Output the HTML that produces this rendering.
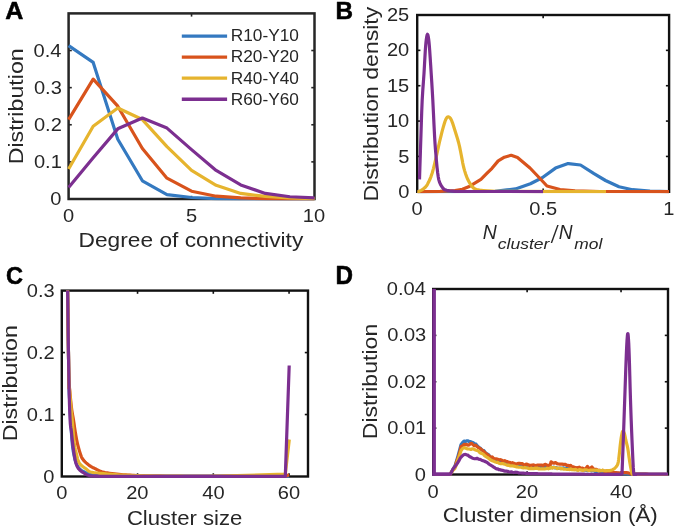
<!DOCTYPE html>
<html><head><meta charset="utf-8"><style>
html,body{margin:0;padding:0;background:#fff;}
svg{display:block;will-change:transform;}
text{font-family:"Liberation Sans",sans-serif;}
</style></head><body>
<svg width="675" height="527" viewBox="0 0 675 527">
<rect width="675" height="527" fill="#fff"/>
<line x1="191.55" y1="199" x2="191.55" y2="195.8" stroke="#262626" stroke-width="1.6"/>
<line x1="191.55" y1="13.4" x2="191.55" y2="16.6" stroke="#262626" stroke-width="1.6"/>
<line x1="68.6" y1="161.88" x2="71.8" y2="161.88" stroke="#262626" stroke-width="1.6"/>
<line x1="314.5" y1="161.88" x2="311.3" y2="161.88" stroke="#262626" stroke-width="1.6"/>
<line x1="68.6" y1="124.76" x2="71.8" y2="124.76" stroke="#262626" stroke-width="1.6"/>
<line x1="314.5" y1="124.76" x2="311.3" y2="124.76" stroke="#262626" stroke-width="1.6"/>
<line x1="68.6" y1="87.64" x2="71.8" y2="87.64" stroke="#262626" stroke-width="1.6"/>
<line x1="314.5" y1="87.64" x2="311.3" y2="87.64" stroke="#262626" stroke-width="1.6"/>
<line x1="68.6" y1="50.52" x2="71.8" y2="50.52" stroke="#262626" stroke-width="1.6"/>
<line x1="314.5" y1="50.52" x2="311.3" y2="50.52" stroke="#262626" stroke-width="1.6"/>
<rect x="68.6" y="13.4" width="245.9" height="185.6" fill="none" stroke="#262626" stroke-width="2.5"/>
<line x1="543.15" y1="191.8" x2="543.15" y2="188.6" stroke="#111" stroke-width="1.6"/>
<line x1="543.15" y1="15" x2="543.15" y2="18.2" stroke="#111" stroke-width="1.6"/>
<line x1="417.2" y1="156.44" x2="420.4" y2="156.44" stroke="#111" stroke-width="1.6"/>
<line x1="669.1" y1="156.44" x2="665.9" y2="156.44" stroke="#111" stroke-width="1.6"/>
<line x1="417.2" y1="121.08" x2="420.4" y2="121.08" stroke="#111" stroke-width="1.6"/>
<line x1="669.1" y1="121.08" x2="665.9" y2="121.08" stroke="#111" stroke-width="1.6"/>
<line x1="417.2" y1="85.72" x2="420.4" y2="85.72" stroke="#111" stroke-width="1.6"/>
<line x1="669.1" y1="85.72" x2="665.9" y2="85.72" stroke="#111" stroke-width="1.6"/>
<line x1="417.2" y1="50.36" x2="420.4" y2="50.36" stroke="#111" stroke-width="1.6"/>
<line x1="669.1" y1="50.36" x2="665.9" y2="50.36" stroke="#111" stroke-width="1.6"/>
<rect x="417.2" y="15" width="251.9" height="176.8" fill="none" stroke="#111" stroke-width="2.4"/>
<line x1="137.55" y1="476.5" x2="137.55" y2="473.3" stroke="#111" stroke-width="1.6"/>
<line x1="137.55" y1="290.6" x2="137.55" y2="293.8" stroke="#111" stroke-width="1.6"/>
<line x1="213.31" y1="476.5" x2="213.31" y2="473.3" stroke="#111" stroke-width="1.6"/>
<line x1="213.31" y1="290.6" x2="213.31" y2="293.8" stroke="#111" stroke-width="1.6"/>
<line x1="289.06" y1="476.5" x2="289.06" y2="473.3" stroke="#111" stroke-width="1.6"/>
<line x1="289.06" y1="290.6" x2="289.06" y2="293.8" stroke="#111" stroke-width="1.6"/>
<line x1="61.8" y1="414.53" x2="65" y2="414.53" stroke="#111" stroke-width="1.6"/>
<line x1="308" y1="414.53" x2="304.8" y2="414.53" stroke="#111" stroke-width="1.6"/>
<line x1="61.8" y1="352.57" x2="65" y2="352.57" stroke="#111" stroke-width="1.6"/>
<line x1="308" y1="352.57" x2="304.8" y2="352.57" stroke="#111" stroke-width="1.6"/>
<rect x="61.8" y="290.6" width="246.2" height="185.9" fill="none" stroke="#111" stroke-width="2.4"/>
<line x1="527.12" y1="474.5" x2="527.12" y2="471.3" stroke="#111" stroke-width="1.6"/>
<line x1="527.12" y1="289" x2="527.12" y2="292.2" stroke="#111" stroke-width="1.6"/>
<line x1="621.04" y1="474.5" x2="621.04" y2="471.3" stroke="#111" stroke-width="1.6"/>
<line x1="621.04" y1="289" x2="621.04" y2="292.2" stroke="#111" stroke-width="1.6"/>
<line x1="433.2" y1="428.12" x2="436.4" y2="428.12" stroke="#111" stroke-width="1.6"/>
<line x1="668" y1="428.12" x2="664.8" y2="428.12" stroke="#111" stroke-width="1.6"/>
<line x1="433.2" y1="381.75" x2="436.4" y2="381.75" stroke="#111" stroke-width="1.6"/>
<line x1="668" y1="381.75" x2="664.8" y2="381.75" stroke="#111" stroke-width="1.6"/>
<line x1="433.2" y1="335.38" x2="436.4" y2="335.38" stroke="#111" stroke-width="1.6"/>
<line x1="668" y1="335.38" x2="664.8" y2="335.38" stroke="#111" stroke-width="1.6"/>
<rect x="433.2" y="289" width="234.8" height="185.5" fill="none" stroke="#111" stroke-width="2.4"/>
<defs>
<clipPath id="ca"><rect x="67.1" y="13.4" width="248.9" height="187.2"/></clipPath>
<clipPath id="cb"><rect x="415.7" y="15" width="254.9" height="178.4"/></clipPath>
<clipPath id="cc"><rect x="60.3" y="290.6" width="249.2" height="187.5"/></clipPath>
<clipPath id="cd"><rect x="431.7" y="289" width="237.8" height="187.1"/></clipPath>
</defs>
<polyline points="68.6,45.69 93.19,62.4 117.78,139.24 142.37,180.81 166.96,194.55 191.55,197.52 216.14,198.63 240.73,198.81 265.32,199 289.91,199 314.5,199" fill="none" stroke="#3479C0" stroke-width="3.2" stroke-linejoin="round" stroke-linecap="butt" clip-path="url(#ca)"/>
<polyline points="68.6,119.56 93.19,79.1 117.78,106.2 142.37,148.52 166.96,178.21 191.55,191.2 216.14,196.22 240.73,197.89 265.32,198.63 289.91,198.81 314.5,199" fill="none" stroke="#D8531C" stroke-width="3.2" stroke-linejoin="round" stroke-linecap="butt" clip-path="url(#ca)"/>
<polyline points="68.6,168.93 93.19,126.24 117.78,108.06 142.37,119.56 166.96,146.66 191.55,170.42 216.14,185.27 240.73,193.43 265.32,196.4 289.91,197.89 314.5,198.63" fill="none" stroke="#E6B42E" stroke-width="3.2" stroke-linejoin="round" stroke-linecap="butt" clip-path="url(#ca)"/>
<polyline points="68.6,187.49 93.19,157.8 117.78,128.84 142.37,118.08 166.96,128.1 191.55,149.63 216.14,170.42 240.73,184.89 265.32,193.43 289.91,196.77 314.5,197.89" fill="none" stroke="#7C2F90" stroke-width="3.2" stroke-linejoin="round" stroke-linecap="butt" clip-path="url(#ca)"/>
<line x1="181.8" y1="36.1" x2="227.1" y2="36.1" stroke="#3479C0" stroke-width="3.3"/>
<text transform="translate(230.72,41.44) scale(1.0860,1)" font-size="15.92" style="font-style:normal;font-weight:normal" fill="#262626" >R10-Y10</text>
<line x1="181.8" y1="57.15" x2="227.1" y2="57.15" stroke="#D8531C" stroke-width="3.3"/>
<text transform="translate(230.72,62.49) scale(1.0860,1)" font-size="15.92" style="font-style:normal;font-weight:normal" fill="#262626" >R20-Y20</text>
<line x1="181.8" y1="78.2" x2="227.1" y2="78.2" stroke="#E6B42E" stroke-width="3.3"/>
<text transform="translate(230.72,83.54) scale(1.0860,1)" font-size="15.92" style="font-style:normal;font-weight:normal" fill="#262626" >R40-Y40</text>
<line x1="181.8" y1="99.25" x2="227.1" y2="99.25" stroke="#7C2F90" stroke-width="3.3"/>
<text transform="translate(230.72,104.59) scale(1.0860,1)" font-size="15.92" style="font-style:normal;font-weight:normal" fill="#262626" >R60-Y60</text>
<text transform="translate(50.37,205.07) scale(1.1400,1)" font-size="17.60"  fill="#262626">0</text>
<text transform="translate(33.91,167.95) scale(1.1400,1)" font-size="17.60"  fill="#262626">0.1</text>
<text transform="translate(33.91,130.83) scale(1.1400,1)" font-size="17.60"  fill="#262626">0.2</text>
<text transform="translate(33.91,93.71) scale(1.1400,1)" font-size="17.60"  fill="#262626">0.3</text>
<text transform="translate(33.51,56.59) scale(1.1400,1)" font-size="17.60"  fill="#262626">0.4</text>
<text transform="translate(62.98,222.02) scale(1.1400,1)" font-size="17.60"  fill="#262626">0</text>
<text transform="translate(185.93,222.02) scale(1.1400,1)" font-size="17.60"  fill="#262626">5</text>
<text transform="translate(302.86,222.02) scale(1.1400,1)" font-size="17.60"  fill="#262626">10</text>
<text transform="translate(78.58,246.9) scale(1.1124,1)" font-size="20.43"  fill="#262626">Degree of connectivity</text>
<text transform="translate(23.3,164.36) rotate(-90) scale(1.1444,1)" font-size="20.30" fill="#262626">Distribution</text>
<text transform="translate(5.35,18.9) scale(1.0238,1)" font-size="24.49" style="font-weight:bold" fill="#000"  stroke="#000" stroke-width="0.55" stroke-linejoin="round">A</text>
<polyline points="417.5,191.6 495,191.3 506.9,189.9 515.5,188.9 530.4,183.7 542.2,177.8 555.5,168.1 567.4,163.7 568.5,163.7 580.5,165 594,173.7 605.5,180.5 619,186.8 632.5,189.7 650,191.2 669,191.6" fill="none" stroke="#3479C0" stroke-width="3.2" stroke-linejoin="round" stroke-linecap="butt" clip-path="url(#cb)"/>
<polyline points="417.5,191.6 440,191.4 455,190.5 462.4,189.3 468.6,186.8 474.8,183.1 480.9,179.4 487.1,173.2 492,168.3 498.2,160.9 504.4,157.2 511.2,155.3 517.5,157.6 530,168 540,178.5 547,186 560,189.5 575,190.8 600,191.5 669,191.6" fill="none" stroke="#D8531C" stroke-width="3.2" stroke-linejoin="round" stroke-linecap="butt" clip-path="url(#cb)"/>
<polyline points="417.5,191.4 417.89,191.47 418.5,191.53 419.5,191.2 421.14,190.32 423.18,189.07 425,187.6 426.34,186.04 427.47,184.27 428.6,182.1 429.8,179.54 430.99,176.57 432.2,173 433.43,168.61 434.67,163.6 435.9,158.4 437.1,153 438.3,147.4 439.5,142 440.76,136.76 442.04,131.73 443.2,127.4 444.19,123.98 445.06,121.27 445.9,119.2 446.7,117.76 447.46,116.97 448.3,116.8 449.26,117.16 450.3,118.15 451.4,120 452.59,123.05 453.85,126.97 455.1,131 456.35,134.94 457.59,138.99 458.7,143 459.62,146.9 460.41,150.77 461.2,154.7 461.98,158.84 462.75,163.06 463.6,167 464.58,170.61 465.64,173.96 466.7,176.9 467.71,179.29 468.72,181.27 469.8,183.1 470.94,184.94 472.15,186.64 473.5,188 475.07,188.9 476.79,189.47 478.5,189.9 479.89,190.19 481.27,190.33 483.4,190.5 487.2,190.78 491.74,191.09 495,191.3 606,191.6" fill="none" stroke="#E6B42E" stroke-width="3.2" stroke-linejoin="round" stroke-linecap="butt" clip-path="url(#cb)"/>
<polyline points="419.5,179.4 419.87,168.04 420.39,151.91 420.9,136.5 421.32,123.49 421.73,111.19 422.2,100 422.78,90.29 423.42,81.69 424,73.5 424.48,65.2 424.91,57.3 425.3,50.7 425.65,45.89 425.96,42.36 426.3,39.5 426.69,36.94 427.09,35.04 427.5,34.3 427.91,35.04 428.31,36.94 428.7,39.5 429.03,42.36 429.34,45.89 429.7,50.7 430.16,57.3 430.67,65.2 431.2,73.5 431.72,81.69 432.25,90.29 432.8,100 433.4,112.1 434.03,125.32 434.6,136.5 435.05,143.92 435.45,149.3 435.9,154.7 436.46,161.13 437.08,167.58 437.7,173 438.23,176.81 438.76,179.61 439.5,182.1 440.6,184.6 441.9,186.81 443.2,188.5 444.24,189.47 445.26,189.92 446.8,190.3 449.5,190.76 452.7,191.14 455,191.4 543.1,191.6" fill="none" stroke="#7C2F90" stroke-width="3.2" stroke-linejoin="round" stroke-linecap="butt" clip-path="url(#cb)"/>
<text transform="translate(398.17,197.87) scale(1.1400,1)" font-size="17.60"  fill="#262626">0</text>
<text transform="translate(398.17,162.51) scale(1.1400,1)" font-size="17.60"  fill="#262626">5</text>
<text transform="translate(386.93,127.15) scale(1.1400,1)" font-size="17.60"  fill="#262626">10</text>
<text transform="translate(386.93,91.79) scale(1.1400,1)" font-size="17.60"  fill="#262626">15</text>
<text transform="translate(386.93,56.43) scale(1.1400,1)" font-size="17.60"  fill="#262626">20</text>
<text transform="translate(386.93,21.07) scale(1.1400,1)" font-size="17.60"  fill="#262626">25</text>
<text transform="translate(411.58,214.92) scale(1.1400,1)" font-size="17.60"  fill="#262626">0</text>
<text transform="translate(529.21,214.92) scale(1.1400,1)" font-size="17.60"  fill="#262626">0.5</text>
<text transform="translate(663.18,214.92) scale(1.1400,1)" font-size="17.60"  fill="#262626">1</text>
<text transform="translate(377.9,201.55) rotate(-90) scale(1.1371,1)" font-size="20.30" fill="#262626">Distribution density</text>
<text transform="translate(335.5,18.9) scale(0.9906,1)" font-size="24.49" style="font-weight:bold" fill="#000"  stroke="#000" stroke-width="0.55" stroke-linejoin="round">B</text>
<text transform="translate(482.72,239.3) scale(0.9781,1)" font-size="19.86" style="font-style:italic" fill="#262626" >N</text>
<text transform="translate(497.77,248.86) scale(1.2691,1)" font-size="13.84" style="font-style:italic" fill="#262626" >cluster</text>
<text transform="translate(551.74,242.76) scale(0.7991,1)" font-size="23.84" style="font-style:italic" fill="#262626" >/</text>
<text transform="translate(558.63,239.3) scale(0.9635,1)" font-size="19.86" style="font-style:italic" fill="#262626" >N</text>
<text transform="translate(574.25,248.86) scale(1.2207,1)" font-size="14.25" style="font-style:italic" fill="#262626" >mol</text>
<polyline points="66.3,200 66.44,209.87 66.64,223.53 66.87,239.71 67.12,257.13 67.37,274.52 67.6,290.6 67.82,306.37 68.06,323.06 68.29,339.71 68.51,355.39 68.72,369.13 68.9,380 69.05,387.35 69.17,391.81 69.27,394.34 69.37,395.9 69.47,397.47 69.6,400 69.74,403.3 69.89,406.56 70.04,409.82 70.21,413.13 70.4,416.5 70.6,420 70.83,423.77 71.09,427.81 71.36,431.94 71.64,435.94 71.93,439.63 72.2,442.8 72.46,445.39 72.7,447.53 72.95,449.36 73.21,450.99 73.49,452.57 73.8,454.2 74.14,455.89 74.5,457.53 74.87,459.11 75.28,460.6 75.72,462.01 76.2,463.3 76.71,464.48 77.25,465.54 77.83,466.52 78.44,467.41 79.09,468.23 79.8,469 80.55,469.69 81.35,470.29 82.19,470.81 83.07,471.29 84.01,471.75 85,472.2 86.14,472.66 87.46,473.12 88.83,473.55 90.12,473.94 91.22,474.26 92,474.5 110,475.8 289.1,476.2" fill="none" stroke="#3479C0" stroke-width="3.2" stroke-linejoin="round" stroke-linecap="butt" clip-path="url(#cc)"/>
<polyline points="66.3,200 66.44,209.87 66.64,223.53 66.87,239.71 67.12,257.13 67.37,274.52 67.6,290.6 67.82,306.51 68.06,323.5 68.29,340.46 68.52,356.27 68.72,369.82 68.9,380 69.02,385.91 69.1,388.25 69.16,388.34 69.22,387.46 69.33,386.91 69.5,388 69.75,390.73 70.06,394.07 70.41,397.75 70.78,401.48 71.15,404.99 71.5,408 71.84,410.47 72.18,412.61 72.52,414.54 72.86,416.34 73.18,418.13 73.5,420 73.8,421.93 74.07,423.84 74.34,425.74 74.61,427.62 74.9,429.51 75.2,431.4 75.51,433.3 75.83,435.2 76.16,437.1 76.5,439 76.88,440.9 77.3,442.8 77.77,444.77 78.3,446.81 78.86,448.86 79.42,450.82 79.98,452.63 80.5,454.2 80.95,455.48 81.33,456.52 81.71,457.41 82.12,458.21 82.64,459.02 83.3,459.9 84.13,460.87 85.1,461.86 86.16,462.86 87.29,463.83 88.45,464.75 89.6,465.6 90.78,466.38 92.03,467.11 93.3,467.8 94.57,468.44 95.82,469.04 97,469.6 98.03,470.11 98.92,470.56 99.77,470.97 100.71,471.35 101.85,471.72 103.3,472.1 105.12,472.49 107.24,472.87 109.56,473.24 111.98,473.6 114.39,473.92 116.7,474.2 118.92,474.43 121.14,474.63 123.36,474.79 125.57,474.93 127.78,475.06 130,475.2 132.18,475.34 134.31,475.47 136.44,475.59 138.61,475.71 140.89,475.81 143.3,475.9 145.62,475.98 147.75,476.04 149.98,476.09 152.58,476.13 155.83,476.17 160,476.2 165.78,476.23 173.09,476.25 181.04,476.27 188.77,476.28 195.38,476.29 200,476.3 285.3,476.2 289.1,474.8" fill="none" stroke="#D8531C" stroke-width="3.2" stroke-linejoin="round" stroke-linecap="butt" clip-path="url(#cc)"/>
<polyline points="66.3,200 66.44,209.87 66.64,223.53 66.87,239.71 67.12,257.13 67.37,274.52 67.6,290.6 67.83,306.51 68.06,323.5 68.3,340.46 68.53,356.27 68.73,369.82 68.9,380 69.02,385.91 69.09,388.25 69.13,388.34 69.18,387.46 69.26,386.91 69.4,388 69.61,390.73 69.87,394.07 70.16,397.75 70.46,401.48 70.74,404.99 71,408 71.21,410.34 71.4,412.19 71.58,413.82 71.76,415.5 71.96,417.47 72.2,420 72.48,423.31 72.8,427.22 73.13,431.44 73.48,435.64 73.84,439.53 74.2,442.8 74.56,445.39 74.92,447.53 75.29,449.36 75.68,450.99 76.08,452.57 76.5,454.2 76.9,455.89 77.28,457.53 77.67,459.11 78.12,460.6 78.68,462.01 79.4,463.3 80.34,464.48 81.49,465.56 82.74,466.55 84.01,467.45 85.2,468.26 86.2,469 86.96,469.64 87.55,470.17 88.05,470.62 88.56,471.01 89.18,471.37 90,471.7 90.88,471.99 91.7,472.21 92.64,472.39 93.83,472.57 95.43,472.76 97.6,473 100.39,473.31 103.69,473.66 107.4,474.02 111.42,474.39 115.66,474.72 120,475 124.56,475.22 129.44,475.4 134.53,475.56 139.72,475.69 144.91,475.8 150,475.9 155,475.99 160,476.05 165,476.1 170,476.14 175,476.17 180,476.2 185.03,476.24 190.11,476.28 195.19,476.31 200.22,476.33 205.17,476.33 210,476.3 214.99,476.22 220.22,476.1 225.38,475.96 230.11,475.81 234.1,475.69 237,475.6 285.3,474.1 289.3,439.5" fill="none" stroke="#E6B42E" stroke-width="3.2" stroke-linejoin="round" stroke-linecap="butt" clip-path="url(#cc)"/>
<polyline points="66.3,200 66.44,209.87 66.64,223.53 66.87,239.71 67.12,257.13 67.37,274.52 67.6,290.6 67.82,306.14 68.04,322.32 68.26,338.46 68.47,353.9 68.69,367.97 68.9,380 69.1,389.86 69.3,398.05 69.5,404.88 69.7,410.61 69.9,415.56 70.1,420 70.31,423.56 70.53,425.92 70.75,427.49 70.97,428.66 71.19,429.83 71.4,431.4 71.6,433.3 71.79,435.2 71.98,437.1 72.17,439 72.38,440.9 72.6,442.8 72.84,444.73 73.1,446.69 73.36,448.64 73.64,450.57 73.92,452.43 74.2,454.2 74.48,455.89 74.75,457.53 75.03,459.11 75.32,460.6 75.64,462.01 76,463.3 76.38,464.47 76.77,465.51 77.19,466.47 77.66,467.35 78.19,468.19 78.8,469 79.51,469.78 80.31,470.51 81.17,471.19 82.07,471.83 82.99,472.43 83.9,473 84.76,473.54 85.58,474.04 86.42,474.51 87.33,474.93 88.37,475.29 89.6,475.6 91.18,475.83 93.1,476 95.16,476.11 97.13,476.19 98.81,476.25 100,476.3 285.3,476.4 289.2,365.5" fill="none" stroke="#7C2F90" stroke-width="3.2" stroke-linejoin="round" stroke-linecap="butt" clip-path="url(#cc)"/>
<text transform="translate(43.27,482.57) scale(1.1400,1)" font-size="17.60"  fill="#262626">0</text>
<text transform="translate(26.81,420.61) scale(1.1400,1)" font-size="17.60"  fill="#262626">0.1</text>
<text transform="translate(26.81,358.64) scale(1.1400,1)" font-size="17.60"  fill="#262626">0.2</text>
<text transform="translate(26.81,296.67) scale(1.1400,1)" font-size="17.60"  fill="#262626">0.3</text>
<text transform="translate(56.18,499.22) scale(1.1400,1)" font-size="17.60"  fill="#262626">0</text>
<text transform="translate(126.22,499.22) scale(1.1400,1)" font-size="17.60"  fill="#262626">20</text>
<text transform="translate(202.27,499.22) scale(1.1400,1)" font-size="17.60"  fill="#262626">40</text>
<text transform="translate(277.73,499.22) scale(1.1400,1)" font-size="17.60"  fill="#262626">60</text>
<text transform="translate(126.89,524.5) scale(1.0528,1)" font-size="21.01"  fill="#262626">Cluster size</text>
<text transform="translate(16.6,441.36) rotate(-90) scale(1.1464,1)" font-size="20.30" fill="#262626">Distribution</text>
<text transform="translate(6.06,283.55) scale(0.9550,1)" font-size="24.65" style="font-weight:bold" fill="#000"  stroke="#000" stroke-width="0.55" stroke-linejoin="round">C</text>
<polyline points="434,474.5 435.23,474.5 436.46,474.5 437.69,474.5 438.92,474.5 440.15,474.5 441.38,474.5 442.62,474.5 443.85,474.5 445.08,474.5 446.31,474.5 447.54,474.5 448.77,474.5 450,474.5 452,471 453.5,468.5 455,465.74 456.5,461.04 458,455.87 459.5,450.35 461,444.63 462.5,442.57 464,441.01 465.33,441.67 466.67,440.93 468,440.73 469.33,441.83 470.67,441.64 472,442.34 473.33,442.81 474.67,443.81 476,444.15 477.33,445.8 478.67,447.2 480,448.02 481.25,449.24 482.5,450.17 483.75,450.56 485,452.26 486.25,453.22 487.5,454.05 488.75,454.91 490,456.87 491.25,457.22 492.5,458.22 493.75,459.13 495,459.71 496.25,460.42 497.5,460.39 498.75,461.3 500,461.44 501.25,462.25 502.5,462.5 503.75,462.03 505,462.39 506.25,462.78 507.5,463.84 508.75,463.62 510,464.13 511.25,463.99 512.5,464.38 513.75,464.45 515,464.6 516.25,465.02 517.5,465.21 518.75,465.72 520,465.68 521.25,466.02 522.5,466.04 523.75,466.27 525,466.05 526.25,465.63 527.5,466.42 528.75,466.62 530,466.65 531.25,466.41 532.5,466.65 533.75,466.24 535,466.96 536.25,466.79 537.5,466.6 538.75,466.47 540,467.35 541.25,467.55 542.5,466.71 543.75,467.49 545,467.16 546.25,466.96 547.5,467.17 548.75,467.71 550,467.87 551.25,467.11 552.5,467.74 553.75,467.23 555,467.97 556.25,467.64 557.5,468.26 558.75,468.42 560,468.01 561.25,468.59 562.5,468 563.75,467.86 565,468.47 566.25,468 567.5,468.26 568.75,468.56 570,468.86 571.25,468.5 572.5,468.48 573.75,469.4 575,468.94 576.25,469.68 577.5,469.71 578.75,469.28 580,469.46 581.25,469.65 582.5,469.89 583.75,469.97 585,470.06 586.25,470.25 587.5,470.69 588.75,470.38 590,470.43 591.25,470.85 592.5,470.49 593.75,470.68 595,471.48 596.25,471.15 597.5,471.3 598.75,470.89 600,471.42 601.25,471.62 602.5,471.75 603.75,471.88 605,472 606.25,472.12 607.5,472.25 608.75,472.38 610,472.5 611.25,472.62 612.5,472.75 613.75,472.88 615,473 616.25,473.08 617.5,473.17 618.75,473.25 620,473.33 621.25,473.42 622.5,473.5 623.75,473.58 625,473.67 626.25,473.75 627.5,473.83 628.75,473.92 630,474 631.23,474.02 632.45,474.03 633.68,474.05 634.9,474.06 636.13,474.08 637.35,474.1 638.58,474.11 639.81,474.13 641.03,474.15 642.26,474.16 643.48,474.18 644.71,474.19 645.94,474.21 647.16,474.23 648.39,474.24 649.61,474.26 650.84,474.27 652.06,474.29 653.29,474.31 654.52,474.32 655.74,474.34 656.97,474.35 658.19,474.37 659.42,474.39 660.65,474.4 661.87,474.42 663.1,474.44 664.32,474.45 665.55,474.47 666.77,474.48 668,474.5" fill="none" stroke="#3479C0" stroke-width="3.2" stroke-linejoin="round" stroke-linecap="butt" clip-path="url(#cd)"/>
<polyline points="434,474.5 435.23,474.5 436.46,474.5 437.69,474.5 438.92,474.5 440.15,474.5 441.38,474.5 442.62,474.5 443.85,474.5 445.08,474.5 446.31,474.5 447.54,474.5 448.77,474.5 450,474.5 452,471.3 453.5,469.05 455,466.91 456.55,461.58 458.1,457.86 459.6,452.54 461.1,446.38 462.6,445.83 464.1,444.25 465.37,444.72 466.63,444.43 467.9,445.09 469.17,444.87 470.43,443.6 471.7,443.38 472.97,444.75 474.23,445.65 475.5,445.15 477.03,446.47 478.57,447.7 480.1,448.35 481.6,449.68 483.1,450.87 484.6,452.22 486.13,453.77 487.67,454.59 489.2,455.93 490.7,457.25 492.2,456.97 493.7,458.5 494.92,459.05 496.14,458.77 497.36,458.97 498.58,460.11 499.8,459.63 501.02,459.86 502.24,460.51 503.46,461.18 504.68,460.64 505.9,461.25 507.2,461.58 508.5,462.6 509.8,462.36 511.1,463.25 512.4,462.61 513.7,463.16 515,463.91 516.25,464.26 517.5,463.68 518.75,463.39 520,463.27 521.23,463.99 522.47,463.67 523.7,464.68 524.93,464.87 526.17,464.11 527.4,464.39 528.63,465.28 529.87,465.2 531.1,465.58 532.33,465.08 533.57,464.93 534.8,465.31 536.01,465.94 537.22,465.13 538.43,465.17 539.64,465.19 540.85,465.12 542.05,465.04 543.26,465.68 544.47,464.54 545.68,464.25 546.89,465.49 548.1,465.33 550,465.68 551.1,461.81 552.58,462.88 554.05,463.2 555.52,462.56 557,463.64 558.23,464.02 559.47,464.03 560.7,464.08 561.93,464 563.17,464.33 564.4,464.42 565.65,464.45 566.9,465.42 568.15,465.25 569.4,466.23 570.65,465.41 571.9,466.87 573.13,466.82 574.37,467.39 575.6,467.61 576.83,467.86 578.07,467.66 579.3,467.12 580.77,468.52 582.25,468.09 583.73,468.64 585.2,469.53 587.4,466.33 589.5,469.18 591.9,466.91 594,469.46 595.25,469.31 596.5,469.42 597.75,470.51 599,470.2 600.25,470.86 601.5,470.49 602.73,470.46 603.97,471.12 605.2,471.69 606.43,470.97 607.67,472.03 608.9,472.39 610.38,471.98 611.85,472.15 613.32,472.32 614.8,472.5 616.1,472.62 617.4,472.75 618.7,472.88 620,473 621.33,472.83 622.67,472.67 624,472.5 625.33,472.6 626.67,472.7 628,472.8 629.33,473.2 630.67,473.6 632,474 633.2,474.02 634.4,474.03 635.6,474.05 636.8,474.07 638,474.08 639.2,474.1 640.4,474.12 641.6,474.13 642.8,474.15 644,474.17 645.2,474.18 646.4,474.2 647.6,474.22 648.8,474.23 650,474.25 651.2,474.27 652.4,474.28 653.6,474.3 654.8,474.32 656,474.33 657.2,474.35 658.4,474.37 659.6,474.38 660.8,474.4 662,474.42 663.2,474.43 664.4,474.45 665.6,474.47 666.8,474.48 668,474.5" fill="none" stroke="#D8531C" stroke-width="3.2" stroke-linejoin="round" stroke-linecap="butt" clip-path="url(#cd)"/>
<polyline points="434,474.5 435.23,474.5 436.46,474.5 437.69,474.5 438.92,474.5 440.15,474.5 441.38,474.5 442.62,474.5 443.85,474.5 445.08,474.5 446.31,474.5 447.54,474.5 448.77,474.5 450,474.5 452,471.5 453.5,469.75 455,468.31 456.5,464.32 458,459.51 459.55,455.18 461.1,450.46 462.6,448.5 464.1,447.57 465.37,447.94 466.63,448.56 467.9,448.82 469.43,449.01 470.97,449.44 472.5,448.8 474,449.35 475.5,449.93 477,450.42 478.53,451.14 480.07,452.81 481.6,453.45 483.1,453.95 484.6,455.64 486.1,456.72 487.63,457.71 489.17,458.75 490.7,460.05 492.23,460.75 493.77,461.29 495.3,461.89 496.5,462.33 497.7,462.42 498.9,463.16 500.1,463.62 501.3,463.58 502.57,463.55 503.83,463.91 505.1,464.37 506.37,464.87 507.63,465.32 508.9,465.18 510.11,465.82 511.32,465.86 512.53,465.89 513.74,466.05 514.95,466.4 516.16,466.82 517.37,466.76 518.58,467.25 519.79,467.24 521,467.25 522.29,467.65 523.57,467.92 524.86,467.41 526.14,467.88 527.43,468 528.71,468.57 530,468.74 531.23,468.21 532.45,468.76 533.67,468.68 534.9,468.19 536.12,468.42 537.35,468.11 538.58,468.83 539.8,468.71 541.02,468.97 542.25,468.9 543.48,468.81 544.7,468.91 545.93,468.77 547.15,468.34 548.38,468.86 549.6,468.3 551.1,467.44 552.33,468.17 553.55,467.54 554.78,467.68 556,467.78 557.23,468.66 558.46,468.05 559.68,467.99 560.91,468.91 562.13,468.28 563.36,469.1 564.59,469.03 565.81,469.28 567.04,469.5 568.27,469.22 569.49,469.53 570.72,468.87 571.94,469.69 573.17,469.53 574.4,469.83 575.62,469.32 576.85,470.06 578.07,470.34 579.3,469.56 580.53,469.85 581.77,470.12 583,470.42 584.23,469.86 585.47,469.83 586.7,469.92 587.93,470.32 589.17,470.49 590.4,470.16 591.63,470.16 592.87,470.22 594.1,470.2 595.33,470.3 596.57,469.99 597.8,470.44 599.03,470.94 600.27,470.41 601.5,470.77 602.73,470.21 603.97,470.77 605.2,470.87 606.43,470.82 607.67,470.69 608.9,470.68 609.58,470.69 610.57,470.34 611.64,470.06 612.6,469.7 613.39,469.27 614.13,468.78 614.83,468.2 615.5,467.5 616.16,466.75 616.8,465.95 617.39,464.95 617.9,463.6 618.31,461.8 618.64,459.65 618.92,457.32 619.2,455 619.46,452.69 619.7,450.31 619.94,447.9 620.2,445.5 620.5,443.02 620.83,440.47 621.16,438.06 621.5,436 621.84,434.25 622.18,432.72 622.53,431.58 622.9,431 623.29,431.12 623.71,431.81 624.12,432.85 624.5,434 624.83,435.24 625.13,436.69 625.44,438.29 625.8,440 626.25,441.84 626.75,443.81 627.25,445.88 627.7,448 628.07,450.24 628.41,452.59 628.71,454.9 629,457 629.27,458.82 629.51,460.46 629.74,462.02 630,463.6 630.29,465.27 630.59,466.95 630.9,468.56 631.2,470 631.47,471.3 631.72,472.48 631.99,473.48 632.3,474.2 632.72,474.56 633.22,474.61 633.68,474.54 634,474.5 635.21,474.5 636.43,474.5 637.64,474.5 638.86,474.5 640.07,474.5 641.29,474.5 642.5,474.5 643.71,474.5 644.93,474.5 646.14,474.5 647.36,474.5 648.57,474.5 649.79,474.5 651,474.5 652.21,474.5 653.43,474.5 654.64,474.5 655.86,474.5 657.07,474.5 658.29,474.5 659.5,474.5 660.71,474.5 661.93,474.5 663.14,474.5 664.36,474.5 665.57,474.5 666.79,474.5 668,474.5" fill="none" stroke="#E6B42E" stroke-width="3.2" stroke-linejoin="round" stroke-linecap="butt" clip-path="url(#cd)"/>
<polyline points="434.1,280 434.1,474.2 435.36,474.2 436.62,474.2 437.88,474.2 439.15,474.2 440.41,474.2 441.67,474.2 442.93,474.2 444.19,474.2 445.45,474.2 446.72,474.2 447.98,474.2 449.24,474.2 450.5,474.2 452.8,469.32 455,466.52 457.3,463.38 458.8,460.9 460.3,458.03 461.57,456.58 462.83,455.39 464.1,454.48 465.37,454.42 466.63,454.85 467.9,455.16 469.43,456.47 470.97,457.25 472.5,458.19 474,458.55 475.5,458.76 477,458.24 478.53,459.06 480.07,459.33 481.6,460.18 483.1,460.73 484.6,461.25 486.1,461.97 487.63,462.85 489.17,464.25 490.7,465.21 492.23,466.04 493.77,467.19 495.3,468.16 496.5,468.88 497.7,468.73 498.9,469.77 500.1,469.72 501.3,470.18 502.57,470.32 503.83,470.87 505.1,471.11 506.37,471.15 507.63,471.34 508.9,471.78 510.11,472.03 511.32,471.8 512.53,472.21 513.74,472.53 514.95,472.27 516.16,472.22 517.37,472.37 518.58,472.89 519.79,473 521,473 522.29,473.09 523.57,473.17 524.86,473.26 526.14,473.34 527.43,473.43 528.71,473.51 530,473.6 531.2,473.62 532.4,473.64 533.6,473.66 534.8,473.68 536,473.7 537.2,473.72 538.4,473.74 539.6,473.76 540.8,473.78 542,473.8 543.2,473.82 544.4,473.84 545.6,473.86 546.8,473.88 548,473.9 549.2,473.92 550.4,473.94 551.6,473.96 552.8,473.98 554,474 555.2,474.02 556.4,474.04 557.6,474.06 558.8,474.08 560,474.1 561.21,474.11 562.42,474.11 563.64,474.12 564.85,474.12 566.06,474.13 567.27,474.14 568.48,474.14 569.7,474.15 570.91,474.15 572.12,474.16 573.33,474.17 574.55,474.17 575.76,474.18 576.97,474.18 578.18,474.19 579.39,474.2 580.61,474.2 581.82,474.21 583.03,474.22 584.24,474.22 585.45,474.23 586.67,474.23 587.88,474.24 589.09,474.25 590.3,474.25 591.52,474.26 592.73,474.26 593.94,474.27 595.15,474.28 596.36,474.28 597.58,474.29 598.79,474.29 600,474.3 601.25,474.3 602.5,474.3 603.75,474.3 605,474.3 606.25,474.3 607.5,474.3 608.75,474.3 610,474.3 611.25,474.3 612.5,474.3 613.75,474.3 615,474.3 616.25,474.3 617.5,474.3 618.75,474.3 620,474.3 622,473.9 622.23,467.95 622.56,459.45 622.94,449.7 623.3,440 623.64,430.55 623.98,420.69 624.33,410.49 624.7,400 625.1,388.45 625.53,376.06 625.94,364.4 626.3,355 626.58,348.49 626.81,343.96 627.01,340.71 627.2,338 627.37,335.81 627.52,334.46 627.66,333.79 627.8,333.6 627.95,333.79 628.09,334.46 628.24,335.81 628.4,338 628.57,340.71 628.76,343.96 628.96,348.49 629.2,355 629.49,364.4 629.81,376.06 630.15,388.45 630.5,400 630.85,410.49 631.22,420.69 631.6,430.55 632,440 632.42,449.69 632.86,459.43 633.31,467.93 633.8,473.9 634.37,476.34 635.01,476.17 635.6,474.93 636,474.2 637.23,474.2 638.46,474.2 639.69,474.2 640.92,474.2 642.15,474.2 643.38,474.2 644.62,474.2 645.85,474.2 647.08,474.2 648.31,474.2 649.54,474.2 650.77,474.2 652,474.2 653.23,474.2 654.46,474.2 655.69,474.2 656.92,474.2 658.15,474.2 659.38,474.2 660.62,474.2 661.85,474.2 663.08,474.2 664.31,474.2 665.54,474.2 666.77,474.2 668,474.2" fill="none" stroke="#7C2F90" stroke-width="3.2" stroke-linejoin="round" stroke-linecap="butt" clip-path="url(#cd)"/>
<line x1="434.1" y1="288.8" x2="434.1" y2="475.8" stroke="#7C2F90" stroke-width="3.2"/>
<line x1="432.5" y1="474.2" x2="450.5" y2="474.2" stroke="#7C2F90" stroke-width="3.2"/>
<text transform="translate(414.87,480.57) scale(1.1400,1)" font-size="17.60"  fill="#262626">0</text>
<text transform="translate(387.18,434.2) scale(1.1400,1)" font-size="17.60"  fill="#262626">0.01</text>
<text transform="translate(387.18,387.82) scale(1.1400,1)" font-size="17.60"  fill="#262626">0.02</text>
<text transform="translate(387.18,341.45) scale(1.1400,1)" font-size="17.60"  fill="#262626">0.03</text>
<text transform="translate(386.78,295.07) scale(1.1400,1)" font-size="17.60"  fill="#262626">0.04</text>
<text transform="translate(427.58,497.72) scale(1.1400,1)" font-size="17.60"  fill="#262626">0</text>
<text transform="translate(515.78,497.72) scale(1.1400,1)" font-size="17.60"  fill="#262626">20</text>
<text transform="translate(610,497.72) scale(1.1400,1)" font-size="17.60"  fill="#262626">40</text>
<text transform="translate(442.78,522.1) scale(1.0957,1)" font-size="20.43"  fill="#262626">Cluster dimension (Å)</text>
<text transform="translate(376.6,439.25) rotate(-90) scale(1.1383,1)" font-size="20.30" fill="#262626">Distribution</text>
<text transform="translate(335.5,283.8) scale(0.9566,1)" font-size="25.36" style="font-weight:bold" fill="#000"  stroke="#000" stroke-width="0.55" stroke-linejoin="round">D</text>
</svg>
</body></html>
